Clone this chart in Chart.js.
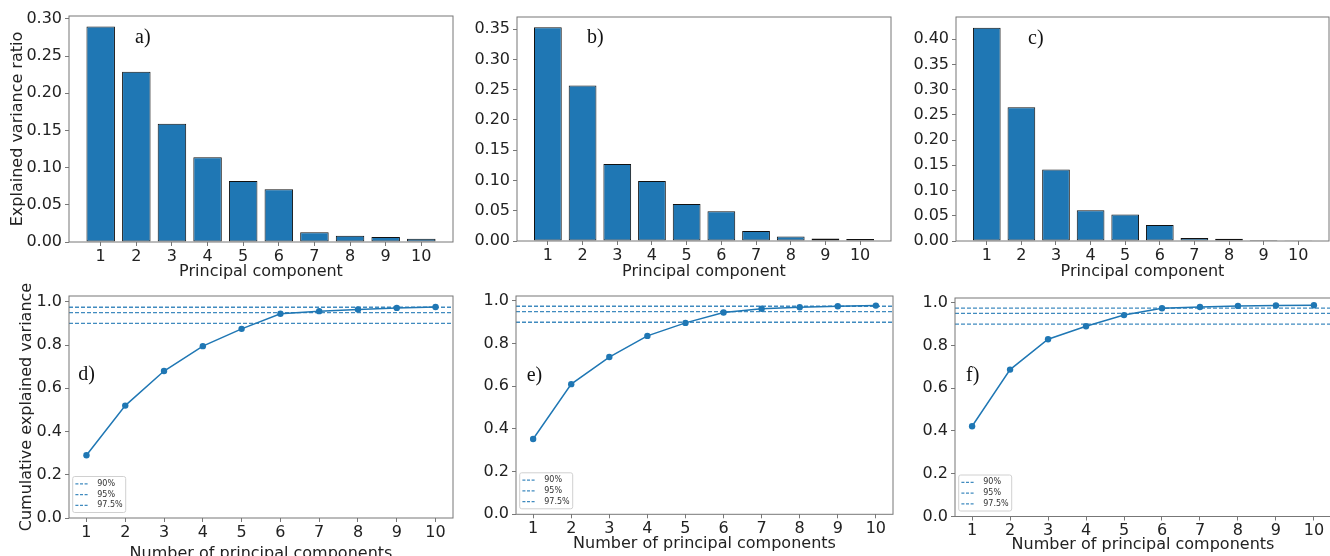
<!DOCTYPE html>
<html>
<head>
<meta charset="utf-8">
<script src="https://cdn.jsdelivr.net/npm/chart.js@4.4.1/dist/chart.umd.min.js"></script>
<style>
  html, body { margin: 0; padding: 0; background: #fff; overflow: hidden; width: 1330px; height: 556px; }
  canvas { position: absolute; left: 0; top: 0; }
</style>
</head>
<body>
<canvas id="pa" width="1340" height="570"></canvas>
<canvas id="pb" width="1340" height="570"></canvas>
<canvas id="pc" width="1340" height="570"></canvas>
<canvas id="pd" width="1340" height="570"></canvas>
<canvas id="pe" width="1340" height="570"></canvas>
<canvas id="pf" width="1340" height="570"></canvas>
<script>
// values
const components = [1, 2, 3, 4, 5, 6, 7, 8, 9, 10];

const ratioA = [0.290, 0.229, 0.159, 0.114, 0.082, 0.071, 0.013, 0.0085, 0.0067, 0.0045];
const ratioB = [0.353, 0.257, 0.127, 0.099, 0.061, 0.049, 0.0166, 0.0073, 0.004, 0.0033];
const ratioC = [0.4225, 0.265, 0.1416, 0.061, 0.0523, 0.0317, 0.006, 0.0047, 0.002, 0.0013];

const cumD = [0.29, 0.52, 0.68, 0.795, 0.875, 0.945, 0.957, 0.965, 0.972, 0.976];
const cumE = [0.353, 0.61, 0.737, 0.836, 0.897, 0.946, 0.963, 0.970, 0.975, 0.978];
const cumF = [0.422, 0.687, 0.829, 0.89, 0.942, 0.974, 0.98, 0.985, 0.987, 0.988];

const thresholds = [0.9, 0.95, 0.975];
const thresholdLabels = ['90%', '95%', '97.5%'];

const ticksA = [0, 0.05, 0.10, 0.15, 0.20, 0.25, 0.30];
const ticksB = [0, 0.05, 0.10, 0.15, 0.20, 0.25, 0.30, 0.35];
const ticksC = [0, 0.05, 0.10, 0.15, 0.20, 0.25, 0.30, 0.35, 0.40];
const ticksCum = [0, 0.2, 0.4, 0.6, 0.8, 1.0];

const BLUE = '#1f77b4';
const DASH_BLUE = 'rgba(31,119,180,0.85)';
const SANS = "'DejaVu Sans', sans-serif";
const TEXT = '#222';
const SPINE = '#777';
const CANVAS_H = 570;

// layout of each panel (chart area in page pixels)
const panels = {
  a: { l: 69, t: 16, r: 453, b: 242, xMin: 0.11, xMax: 10.89, yMax: 0.304, xTitle: 'Principal component', xTitleY: 272,
       yTitle: 'Explained variance ratio', yTitleX: 18, tag: 'a)', tagDx: 66, tagDy: 27 },
  b: { l: 517, t: 17, r: 891, b: 241, xMin: 0.11, xMax: 10.89, yMax: 0.370, xTitle: 'Principal component', xTitleY: 272,
       tag: 'b)', tagDx: 70, tagDy: 26 },
  c: { l: 956, t: 17, r: 1329, b: 241, xMin: 0.11, xMax: 10.89, yMax: 0.444, xTitle: 'Principal component', xTitleY: 272,
       tag: 'c)', tagDx: 72, tagDy: 26.5 },
  d: { l: 69, t: 296, r: 453, b: 518, xMin: 0.55, xMax: 10.45, yMax: 1.027, xTitle: 'Number of principal components', xTitleY: 553.5,
       yTitle: 'Cumulative explained variance', yTitleX: 26.6, tag: 'd)', tagDx: 9.3, tagDy: 84, legend: true },
  e: { l: 516, t: 296, r: 893, b: 514.3, xMin: 0.55, xMax: 10.45, yMax: 1.023, xTitle: 'Number of principal components', xTitleY: 544,
       tag: 'e)', tagDx: 10.7, tagDy: 84.5, legend: true },
  f: { l: 955, t: 298, r: 1331, b: 516.5, xMin: 0.55, xMax: 10.45, yMax: 1.022, xTitle: 'Number of principal components', xTitleY: 545,
       tag: 'f)', tagDx: 11, tagDy: 82.5, legend: true }
};

const framePlugin = {
  id: 'frame',
  afterDraw(chart) {
    const p = chart.options.plugins.frame;
    const a = chart.chartArea;
    const ctx = chart.ctx;
    ctx.save();
    ctx.strokeStyle = SPINE;
    ctx.lineWidth = 1;
    ctx.strokeRect(a.left, a.top, a.right - a.left, a.bottom - a.top);

    ctx.fillStyle = '#111';
    ctx.font = "20px 'Liberation Serif', serif";
    ctx.textBaseline = 'alphabetic';
    ctx.fillText(p.tag, a.left + p.tagDx, a.top + p.tagDy);

    if (p.legend) {
      const bx = a.left + 3.7, bw = 53, bh = 36;
      const by = a.bottom - 5.5 - bh;
      ctx.fillStyle = 'rgba(255,255,255,0.8)';
      ctx.strokeStyle = '#d0d0d0';
      ctx.beginPath();
      ctx.roundRect(bx, by, bw, bh, 2);
      ctx.fill();
      ctx.stroke();
      ctx.font = "8px " + SANS;
      ctx.textBaseline = 'middle';
      thresholdLabels.forEach((lab, i) => {
        const y = by + 7.3 + i * 10.8;
        ctx.strokeStyle = DASH_BLUE;
        ctx.lineWidth = 1.2;
        ctx.setLineDash([3, 1.6]);
        ctx.beginPath();
        ctx.moveTo(bx + 2.7, y);
        ctx.lineTo(bx + 15.5, y);
        ctx.stroke();
        ctx.setLineDash([]);
        ctx.fillStyle = '#333';
        ctx.fillText(lab, bx + 24.5, y);
      });
    }
    ctx.restore();
  }
};

function makeChart(id, p, type, datasets, yTicks, digits) {
  const yScaleLeft = p.yTitle ? p.yTitleX - 8 : p.l - 60;
  const yWidth = p.l - yScaleLeft;
  const xBottom = p.xTitleY + 8;
  const xHeight = xBottom - p.b;
  const tickFont = { family: SANS, size: 16 };
  const titleFont = { family: SANS, size: 16, lineHeight: 1 };
  const gridOpts = { display: true, offset: false, drawOnChartArea: false, drawTicks: true, tickLength: 4, color: SPINE };

  return new Chart(document.getElementById(id), {
    type: type,
    data: { datasets: datasets },
    options: {
      responsive: false,
      animation: false,
      devicePixelRatio: 1,
      events: [],
      layout: { padding: { left: yScaleLeft, top: p.t, right: 1340 - p.r, bottom: CANVAS_H - xBottom } },
      scales: {
        x: {
          type: 'linear', min: p.xMin, max: p.xMax, offset: false,
          afterBuildTicks: s => { s.ticks = components.map(v => ({ value: v })); },
          afterFit: s => { s.height = xHeight; },
          ticks: { autoSkip: false, maxRotation: 0, padding: 1, color: TEXT, font: tickFont, callback: v => String(v) },
          grid: gridOpts,
          border: { display: false },
          title: { display: true, text: p.xTitle, color: TEXT, font: titleFont, padding: 0 }
        },
        y: {
          type: 'linear', min: 0, max: p.yMax,
          afterBuildTicks: s => { s.ticks = yTicks.map(v => ({ value: v })); },
          afterFit: s => { s.width = yWidth; },
          ticks: { autoSkip: false, padding: 3, color: TEXT, font: tickFont, callback: v => Number(v).toFixed(digits) },
          grid: gridOpts,
          border: { display: false },
          title: { display: !!p.yTitle, text: p.yTitle || '', color: TEXT, font: titleFont, padding: 0 }
        }
      },
      plugins: {
        legend: { display: false },
        tooltip: { enabled: false },
        frame: p
      }
    },
    plugins: [framePlugin]
  });
}

function barSet(values) {
  return [{
    data: components.map((c, i) => ({ x: c, y: values[i] })),
    backgroundColor: BLUE,
    borderColor: '#111',
    borderWidth: 1,
    borderSkipped: false,
    categoryPercentage: 1,
    barPercentage: 0.8
  }];
}

function cumSets(values, p) {
  const sets = [{
    type: 'line',
    data: components.map((c, i) => ({ x: c, y: values[i] })),
    borderColor: BLUE,
    backgroundColor: BLUE,
    borderWidth: 1.5,
    pointRadius: 3.2,
    pointBorderWidth: 0,
    tension: 0
  }];
  thresholds.forEach((t, i) => {
    sets.push({
      type: 'line',
      label: thresholdLabels[i],
      data: [{ x: p.xMin, y: t }, { x: p.xMax, y: t }],
      borderColor: DASH_BLUE,
      borderWidth: 1.3,
      borderDash: [4, 2],
      pointRadius: 0,
      tension: 0
    });
  });
  return sets;
}

makeChart('pa', panels.a, 'bar', barSet(ratioA), ticksA, 2);
makeChart('pb', panels.b, 'bar', barSet(ratioB), ticksB, 2);
makeChart('pc', panels.c, 'bar', barSet(ratioC), ticksC, 2);
makeChart('pd', panels.d, 'line', cumSets(cumD, panels.d), ticksCum, 1);
makeChart('pe', panels.e, 'line', cumSets(cumE, panels.e), ticksCum, 1);
makeChart('pf', panels.f, 'line', cumSets(cumF, panels.f), ticksCum, 1);
</script>
</body>
</html>
